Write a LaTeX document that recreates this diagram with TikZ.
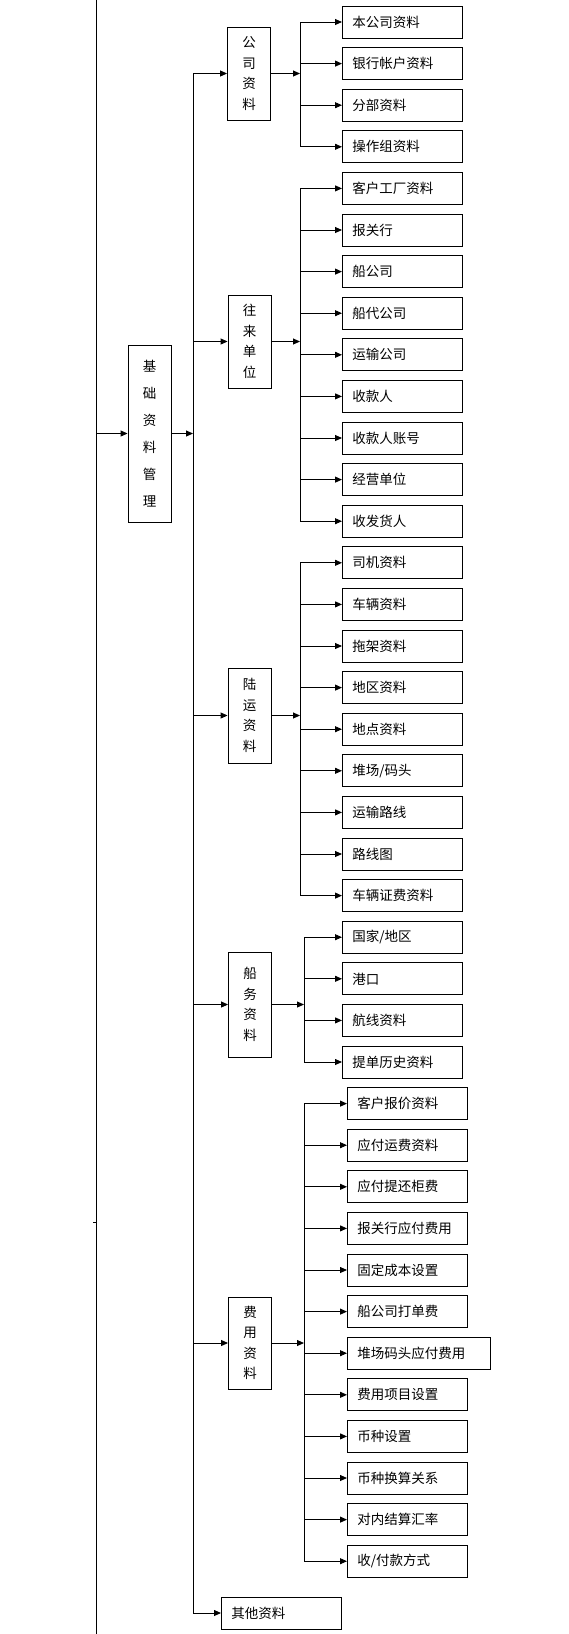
\documentclass[tikz,border=0pt]{standalone}
\usepackage{fontspec}
\setmainfont{Noto Sans CJK SC}
\usetikzlibrary{arrows.meta}
\begin{document}
\begin{tikzpicture}[x=1pt,y=-1pt,
 line width=0.9pt,
 arr/.style={-{Triangle[length=7pt,width=6pt]}},
 leaf/.style={draw, anchor=west, text width=100pt, inner xsep=10pt, inner ysep=0pt, minimum height=32pt, align=left, font=\fontsize{13.5}{16}\selectfont},
 mid/.style={draw, minimum width=43pt, inner sep=0pt, align=center, font=\fontsize{13.5}{20.5}\selectfont},
]
\useasboundingbox (0,0) rectangle (569,1634);
% leaves
\foreach \t [count=\i from 0] in {本公司资料,银行帐户资料,分部资料,操作组资料,客户工厂资料,报关行,船公司,船代公司,运输公司,收款人,收款人账号,经营单位,收发货人,司机资料,车辆资料,拖架资料,地区资料,地点资料,堆场/码头,运输路线,路线图,车辆证费资料,国家/地区,港口,航线资料,提单历史资料}
  \node[leaf] (L\i) at (342, 22+41.6*\i) {\t};
\foreach \t [count=\i from 26] in {客户报价资料,应付运费资料,应付提还柜费,报关行应付费用,固定成本设置,船公司打单费}
  \node[leaf] (L\i) at (347, 22+41.6*\i) {\t};
\node[leaf, text width=123pt] (L32) at (347, 22+41.6*32) {堆场码头应付费用};
\foreach \t [count=\i from 33] in {费用项目设置,币种设置,币种换算关系,对内结算汇率,收/付款方式}
  \node[leaf] (L\i) at (347, 22+41.6*\i) {\t};
% middle boxes
\node[mid, minimum height=93pt] (A) at (249, 73.5) {公\\司\\资\\料};
\node[mid, minimum height=93pt] (B) at (249.5, 341.5) {往\\来\\单\\位};
\node[mid, minimum height=95pt] (C) at (249.5, 715.5) {陆\\运\\资\\料};
\node[mid, minimum height=105pt] (D) at (250, 1004.5) {船\\务\\资\\料};
\node[mid, minimum height=92pt] (E) at (250, 1343) {费\\用\\资\\料};
\node[leaf] (F) at (221, 1613) {其他资料};
\node[mid, minimum height=177pt, font=\fontsize{13.5}{27}\selectfont] (J) at (149.5, 433.5) {基\\础\\资\\料\\管\\理};
% left line
\coordinate (vtop) at (96,0);
\coordinate (vbot) at (96,1634);
\coordinate (tk) at (93,1222);
\draw (vtop) -- (vbot);
\draw (tk) -- (vtop |- tk);
\draw[arr] (vtop |- J.west) -- (J.west);
% trunk
\coordinate (T) at (193,0);
\draw[arr] (J.east) -- (T |- J.east);
\draw (T |- A.west) -- (T |- F.west);
\foreach \m in {A,B,C,D,E,F}
  \draw[arr] (T |- \m.west) -- (\m.west);
% branches
\coordinate (b1) at (300,0);
\coordinate (b2) at (304,0);
\draw[arr] (A.east) -- (b1 |- A.east);
\draw (b1 |- L0.west) -- (b1 |- L3.west);
\foreach \i in {0,...,3} \draw[arr] (b1 |- L\i.west) -- (L\i.west);
\draw[arr] (B.east) -- (b1 |- B.east);
\draw (b1 |- L4.west) -- (b1 |- L12.west);
\foreach \i in {4,...,12} \draw[arr] (b1 |- L\i.west) -- (L\i.west);
\draw[arr] (C.east) -- (b1 |- C.east);
\draw (b1 |- L13.west) -- (b1 |- L21.west);
\foreach \i in {13,...,21} \draw[arr] (b1 |- L\i.west) -- (L\i.west);
\draw[arr] (D.east) -- (b2 |- D.east);
\draw (b2 |- L22.west) -- (b2 |- L25.west);
\foreach \i in {22,...,25} \draw[arr] (b2 |- L\i.west) -- (L\i.west);
\draw[arr] (E.east) -- (b2 |- E.east);
\draw (b2 |- L26.west) -- (b2 |- L37.west);
\foreach \i in {26,...,37} \draw[arr] (b2 |- L\i.west) -- (L\i.west);
\end{tikzpicture}
\end{document}
